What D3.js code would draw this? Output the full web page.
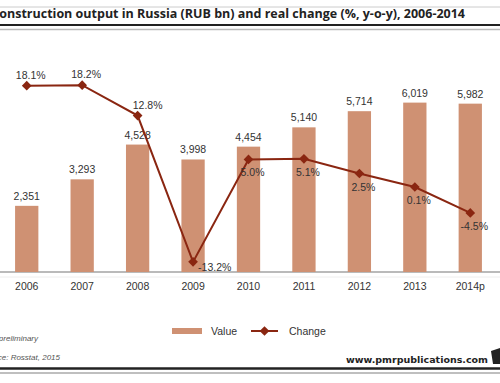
<!DOCTYPE html>
<html>
<head>
<meta charset="utf-8">
<script src="https://cdn.jsdelivr.net/npm/d3@7"></script>
<style>
  body { margin: 0; background: #fff; }
  svg { display: block; font-family: Arial, "Liberation Sans", sans-serif; }
</style>
</head>
<body>
<script>
// data
var years = ["2006", "2007", "2008", "2009", "2010", "2011", "2012", "2013", "2014p"];
var values = [2351, 3293, 4528, 3998, 4454, 5140, 5714, 6019, 5982];
var changes = [18.1, 18.2, 12.8, -13.2, 5.0, 5.1, 2.5, 0.1, -4.5];

var W = 500, H = 383;
var barColor = "#cf9173", lineColor = "#8a2611";

var svg = d3.select("body").append("svg")
    .attr("width", W)
    .attr("height", H);

// header rules + title
svg.append("line").attr("x1", 0).attr("x2", W).attr("y1", 7).attr("y2", 7)
    .attr("stroke", "#ccc").attr("stroke-width", 1);
svg.append("text")
    .attr("x", 465).attr("y", 18)
    .attr("text-anchor", "end")
    .attr("font-family", "'Open Sans', sans-serif")
    .attr("font-weight", "bold")
    .attr("font-size", 12.5)
    .attr("fill", "#222")
    .text("Construction output in Russia (RUB bn) and real change (%, y-o-y), 2006-2014");
svg.append("line").attr("x1", 0).attr("x2", W).attr("y1", 25).attr("y2", 25)
    .attr("stroke", "#222").attr("stroke-width", 2);
svg.append("line").attr("x1", 0).attr("x2", W).attr("y1", 29.5).attr("y2", 29.5)
    .attr("stroke", "#bbb").attr("stroke-width", 1.5);

// scales
var x = d3.scaleBand()
    .domain(years)
    .range([-1, 498])
    .paddingInner(0.58)
    .paddingOuter(0.29);
var y = d3.scaleLinear().domain([0, 7000]).range([272, 75]);
var y2 = d3.scaleLinear().domain([-15, 20]).range([272, 75]);

// baseline
svg.append("line").attr("x1", 0).attr("x2", W).attr("y1", 272).attr("y2", 272)
    .attr("stroke", "#777").attr("stroke-width", 1.2);
svg.append("line").attr("x1", 0).attr("x2", W).attr("y1", 277).attr("y2", 277)
    .attr("stroke", "#eee").attr("stroke-width", 1);

// x axis labels
var xAxis = svg.append("g")
    .attr("transform", "translate(0,272)")
    .call(d3.axisBottom(x).tickSize(0).tickPadding(11));
xAxis.select(".domain").remove();
xAxis.selectAll("text")
    .attr("font-size", 10.5)
    .attr("font-family", "Arial, 'Liberation Sans', sans-serif")
    .attr("fill", "#333");

// bars
svg.selectAll(".bar")
    .data(values)
    .enter().append("rect")
    .attr("class", "bar")
    .attr("x", function (d, i) { return x(years[i]); })
    .attr("width", x.bandwidth())
    .attr("y", function (d) { return y(d); })
    .attr("height", function (d) { return y(0) - y(d); })
    .attr("fill", barColor);

svg.selectAll(".vlab")
    .data(values)
    .enter().append("text")
    .attr("class", "vlab")
    .attr("x", function (d, i) { return x(years[i]) + x.bandwidth() / 2; })
    .attr("y", function (d) { return y(d) - 6; })
    .attr("text-anchor", "middle")
    .attr("font-size", 10.5)
    .attr("fill", "#333")
    .text(d3.format(","));

// line
var cx = function (i) { return x(years[i]) + x.bandwidth() / 2; };
var line = d3.line()
    .x(function (d, i) { return cx(i); })
    .y(function (d) { return y2(d); });

svg.append("path")
    .datum(changes)
    .attr("fill", "none")
    .attr("stroke", lineColor)
    .attr("stroke-width", 2)
    .attr("d", line);

svg.selectAll(".dot")
    .data(changes)
    .enter().append("path")
    .attr("class", "dot")
    .attr("d", d3.symbol().type(d3.symbolDiamond2).size(60))
    .attr("transform", function (d, i) { return "translate(" + cx(i) + "," + y2(d) + ")"; })
    .attr("fill", lineColor);

var minIdx = d3.minIndex(changes);
svg.selectAll(".clab")
    .data(changes)
    .enter().append("text")
    .attr("class", "clab")
    .attr("x", function (d, i) {
        if (i === minIdx) return cx(i) + 5;
        if (i === 2) return cx(i) + 10;
        return cx(i) + 4;
    })
    .attr("y", function (d, i) {
        if (i === minIdx) return y2(d) + 9;
        if (i < 3) return y2(d) - 7;
        return y2(d) + 17;
    })
    .attr("text-anchor", function (d, i) { return i === minIdx ? "start" : "middle"; })
    .attr("font-size", 10.5)
    .attr("fill", "#333")
    .text(function (d) { return d.toFixed(1) + "%"; });

// legend
var lg = svg.append("g").attr("transform", "translate(0,331)");
lg.append("rect").attr("x", 172).attr("y", -3).attr("width", 30).attr("height", 6).attr("fill", barColor);
lg.append("text").attr("x", 211).attr("y", 4).attr("font-size", 10.5).attr("fill", "#333").text("Value");
lg.append("line").attr("x1", 251).attr("x2", 278).attr("y1", 0).attr("y2", 0)
    .attr("stroke", lineColor).attr("stroke-width", 2);
lg.append("path").attr("d", d3.symbol().type(d3.symbolDiamond2).size(60))
    .attr("transform", "translate(264.5,0)").attr("fill", lineColor);
lg.append("text").attr("x", 289).attr("y", 4).attr("font-size", 10.5).attr("fill", "#333").text("Change");

// footnotes
svg.append("text").attr("x", 38).attr("y", 341).attr("text-anchor", "end")
    .attr("font-size", 8).attr("font-style", "italic").attr("fill", "#555")
    .text("p - preliminary");
svg.append("text").attr("x", 60).attr("y", 360).attr("text-anchor", "end")
    .attr("font-size", 8).attr("font-style", "italic").attr("fill", "#555")
    .text("Source: Rosstat, 2015");

svg.append("text").attr("x", 488).attr("y", 363).attr("text-anchor", "end")
    .attr("font-family", "Verdana, 'DejaVu Sans', sans-serif")
    .attr("font-weight", "bold").attr("font-size", 9.5).attr("fill", "#222")
    .text("www.pmrpublications.com");
// little logo, cut at right edge
svg.append("path")
    .attr("d", "M491,351 L500,348 L500,364 L493,364 Z")
    .attr("fill", "#222");

// footer rules
svg.append("line").attr("x1", 0).attr("x2", W).attr("y1", 368.5).attr("y2", 368.5)
    .attr("stroke", "#222").attr("stroke-width", 2.5);
svg.append("line").attr("x1", 0).attr("x2", W).attr("y1", 373).attr("y2", 373)
    .attr("stroke", "#aaa").attr("stroke-width", 1.5);
</script>
</body>
</html>
